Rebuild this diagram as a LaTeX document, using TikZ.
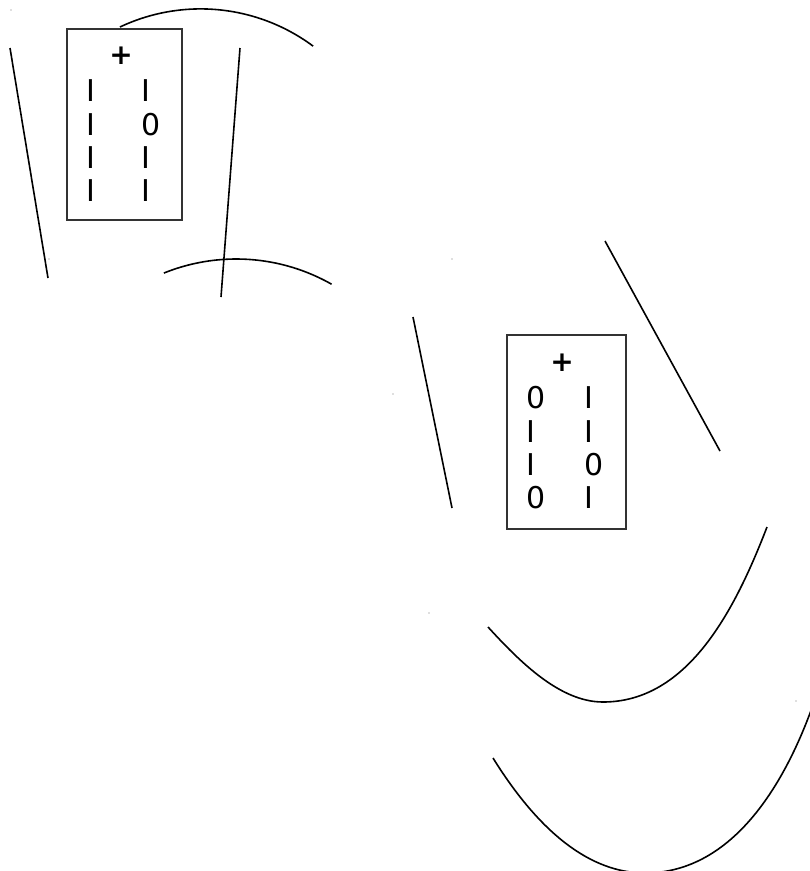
\documentclass[tikz,border=0pt]{standalone}
\usepackage{fontspec}
\setmainfont{DejaVu Sans}
\newfontfamily\plusfont{DejaVu Sans Bold}
\begin{document}
\begin{tikzpicture}[x=0.75pt,y=-0.75pt,
  ln/.style={line width=1.2pt,black,line cap=butt},
  panel/.style={draw=black!80,line width=1.25pt,inner sep=0pt,fill=none},
  glyph/.style={inner sep=0pt,anchor=west,font=\fontsize{22.5}{26}\selectfont},
  plus/.style={inner sep=0pt,font=\fontsize{21}{24}\plusfont},
  speck/.style={fill=black!55,draw=none}]
\useasboundingbox (0,0) rectangle (810,871);
% boxes
\node[panel,minimum width=86.25pt,minimum height=143.25pt] (box1) at (124.5,124.5) {};
\node[panel,minimum width=89.25pt,minimum height=145.5pt] (box2) at (566.5,432) {};
% box 1 texts
\node[plus] (p1) at (121,56) {+};
\node[glyph] (t11) at (86,91) {I};
\node[glyph] (t12) at (141.5,91) {I};
\node[glyph] (t21) at (86,125) {I};
\node[glyph] (t22) at (141.5,125) {0};
\node[glyph] (t31) at (86,158) {I};
\node[glyph] (t32) at (141.5,158) {I};
\node[glyph] (t41) at (86,191) {I};
\node[glyph] (t42) at (141.5,191) {I};
% box 2 texts
\node[plus] (p2) at (562,363) {+};
\node[glyph] (u11) at (526,398) {0};
\node[glyph] (u12) at (584,398) {I};
\node[glyph] (u21) at (526,432) {I};
\node[glyph] (u22) at (584,432) {I};
\node[glyph] (u31) at (526,465) {I};
\node[glyph] (u32) at (584,465) {0};
\node[glyph] (u41) at (526,498) {0};
\node[glyph] (u42) at (584,498) {I};
% straight strokes
\coordinate (la) at (10,48);   \coordinate (lb) at (48,278);
\coordinate (lc) at (240,48);  \coordinate (ld) at (221,297);
\coordinate (le) at (413,317); \coordinate (lf) at (452,508);
\coordinate (lg) at (605,241); \coordinate (lh) at (720,451);
\draw[ln] (la) -- (lb);
\draw[ln] (lc) -- (ld);
\draw[ln] (le) -- (lf);
\draw[ln] (lg) -- (lh);
% circular arcs
\draw[ln] plot[domain=-115.3:-53.4,samples=60,smooth] ({200.6+188.7*cos(\x)},{197.6+188.7*sin(\x)});
\draw[ln] plot[domain=-112.0:-60.4,samples=60,smooth] ({236.2+193.1*cos(\x)},{452.1+193.1*sin(\x)});
% lower right curves
\coordinate (ca) at (488,627); \coordinate (cb) at (603,702); \coordinate (cc) at (767,527);
\draw[ln] (ca) .. controls (520,662) and (560,702) .. (cb)
               .. controls (688,702) and (735,610) .. (cc);
\coordinate (da) at (493,758); \coordinate (db) at (645,873); \coordinate (dc) at (813,705);
\draw[ln] (da) .. controls (539,832) and (590,873) .. (db)
               .. controls (730,873) and (783,789) .. (dc);
% specks
\fill[speck] (11,10) circle (0.7);
\fill[speck] (49,259) circle (0.6);
\fill[speck] (452,259) circle (0.6);
\fill[speck] (393,394) circle (0.6);
\fill[speck] (429,613) circle (0.6);
\fill[speck] (796,701) circle (0.6);
\end{tikzpicture}
\end{document}
